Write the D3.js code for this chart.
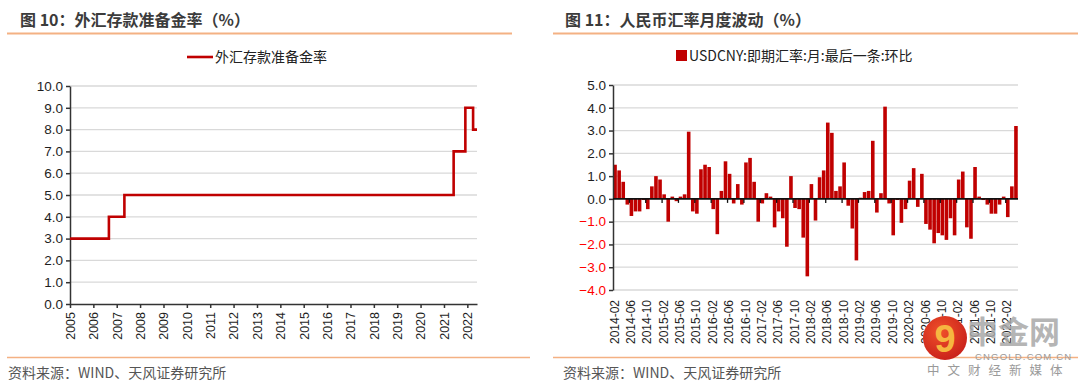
<!DOCTYPE html>
<html>
<head>
<meta charset="utf-8">
<script src="https://cdn.jsdelivr.net/npm/d3@7"></script>
<style>
  body { margin: 0; background: #fff; }
  svg { display: block; }
  text { font-family: "Liberation Sans", Arial, sans-serif; }
  .cjk { font-family: "Noto Sans CJK SC", sans-serif; }
</style>
</head>
<body>
<div id="container"></div>
<script>
/* DATA */
// left chart: fx deposit reserve ratio, step changes
const rrrDates = ["2005-01", "2006-09", "2007-05", "2021-06", "2021-12", "2022-04", "2022-06"];
const rrrValues = [3, 4, 5, 7, 9, 8, 8];
const rrrTicks = [0, 1, 2, 3, 4, 5, 6, 7, 8, 9, 10];

// right chart: USDCNY month-end spot, m/m change (%), 2014-02 .. 2022-04
const fxStart = "2014-02";
const fxEnd = "2022-04";
const fxValues = [
  1.5, 1.25, 0.75, -0.25, -0.75, -0.55, -0.55, -0.05, -0.45, 0.55, 1.0, 0.85, 0.2, -1.0, 0.1, -0.1, 0.1, 0.2,
  2.95, -0.55, -0.65, 1.3, 1.5, 1.4, -0.45, -1.55, 0.35, 1.65, 1.1, -0.2, 0.65, -0.25, 1.6,
  1.8, 0.75, -1.0, -0.2, 0.25, 0.1, -1.25, -0.55, -0.85, -2.1, 1.0, -0.4, -0.45, -1.7, -3.4, 0.65, -0.95, 0.95, 1.25, 3.35, 2.9, 0.35, 0.55,
  1.6, -0.3, -1.3, -2.7, 0.05, 0.3, 0.35, 2.55, -0.6, 0.25, 4.05,
  -0.2, -1.6, -0.05, -1.05, -0.45, 0.8, 1.35, -0.35, 1.1, -1.1, -1.35, -1.95, -1.5, -1.6, -1.8, -0.85, -1.6,
  0.85, 1.2, -1.25, -1.75, 1.4, 0.1, -0.05, -0.25, -0.65, -0.65, -0.25, 0.1, -0.8, 0.55, 3.2
];
const fxTicks = [-4, -3, -2, -1, 0, 1, 2, 3, 4, 5];

const parseMonth = d3.timeParse("%Y-%m");
const fmtMonth = d3.timeFormat("%Y-%m");
const fxMonths = d3.timeMonth.range(parseMonth(fxStart), d3.timeMonth.offset(parseMonth(fxEnd), 1)).map(fmtMonth);

const width = 1080;
const height = 387;
const red = "#c00000";
const orange = "#f4b183";

const svg = d3.select("#container")
  .append("svg")
  .attr("width", width)
  .attr("height", height)

/* HEADERS AND FOOTERS */
const panels = [
  {x0: 7, x1: 512, tx: 20, title: "图 10：外汇存款准备金率（%）", fx0: 7, fx1: 530, sx: 8},
  {x0: 553, x1: 1078, tx: 565, title: "图 11：人民币汇率月度波动（%）", fx0: 553, fx1: 1078, sx: 563}
];
panels.forEach(p => {
  svg.append("text")
    .attr("class", "cjk")
    .attr("x", p.tx)
    .attr("y", 26)
    .attr("font-size", 16)
    .attr("font-weight", 700)
    .attr("fill", "#3b3b3b")
    .text(p.title)
  svg.append("line")
    .attr("x1", p.x0).attr("x2", p.x1)
    .attr("y1", 33.5).attr("y2", 33.5)
    .attr("stroke", orange)
    .attr("stroke-width", 2)
  svg.append("line")
    .attr("x1", p.fx0).attr("x2", p.fx1)
    .attr("y1", 357.5).attr("y2", 357.5)
    .attr("stroke", orange)
    .attr("stroke-width", 1.5)
  svg.append("text")
    .attr("class", "cjk")
    .attr("x", p.sx)
    .attr("y", 378)
    .attr("font-size", 14)
    .attr("fill", "#555")
    .text("资料来源：WIND、天风证券研究所")
})

/* LEFT CHART */
const xL = d3.scaleTime()
  .domain([new Date(2005, 0, 1), new Date(2022, 5, 1)])
  .range([70, 477])
const yL = d3.scaleLinear()
  .domain([0, 10])
  .range([304, 86])

svg.append("g")
  .selectAll("line")
  .data(rrrTicks.slice(1))
  .join("line")
  .attr("x1", 70).attr("x2", 477)
  .attr("y1", d => yL(d)).attr("y2", d => yL(d))
  .attr("stroke", "#d9d9d9")
  .attr("stroke-width", 1.3)

const yAxisL = svg.append("g")
  .attr("transform", "translate(70,0)")
  .call(d3.axisLeft(yL).tickValues(rrrTicks).tickFormat(d3.format(".1f")).tickSize(4).tickSizeOuter(0))
yAxisL.selectAll("text").attr("font-size", 13.5).attr("fill", "#1e1e1e").attr("font-family", "Liberation Sans, Arial")
yAxisL.selectAll("line, path").attr("stroke", "#333").attr("stroke-width", 1.5)

const xAxisL = svg.append("g")
  .attr("transform", "translate(0,304)")
  .call(d3.axisBottom(xL).ticks(d3.timeYear.every(1)).tickFormat(d3.timeFormat("%Y")).tickSize(4).tickSizeOuter(0))
xAxisL.selectAll("line, path").attr("stroke", "#333").attr("stroke-width", 1.5)
xAxisL.selectAll("text")
  .attr("transform", "rotate(-90)")
  .attr("x", -8)
  .attr("y", 0)
  .attr("dy", "0.35em")
  .style("text-anchor", "end")
  .attr("font-size", 12.5)
  .attr("fill", "#1e1e1e")
  .attr("font-family", "Liberation Sans, Arial")

const rrrData = rrrDates.map((d, i) => ({date: parseMonth(d), value: rrrValues[i]}))
svg.append("path")
  .datum(rrrData)
  .attr("fill", "none")
  .attr("stroke", red)
  .attr("stroke-width", 2.6)
  .attr("d", d3.line().x(d => xL(d.date)).y(d => yL(d.value)).curve(d3.curveStepAfter))

// legend
svg.append("line")
  .attr("x1", 187).attr("x2", 213)
  .attr("y1", 57).attr("y2", 57)
  .attr("stroke", red)
  .attr("stroke-width", 2.6)
svg.append("text")
  .attr("class", "cjk")
  .attr("x", 215)
  .attr("y", 62)
  .attr("font-size", 14)
  .attr("fill", "#222")
  .text("外汇存款准备金率")

/* RIGHT CHART */
const xR = d3.scaleBand()
  .domain(fxMonths)
  .range([613, 1018])
  .paddingInner(0.12)
  .paddingOuter(0.06)
const yR = d3.scaleLinear()
  .domain([-4, 5])
  .range([290, 85])

svg.append("g")
  .selectAll("line")
  .data(fxTicks.filter(d => d !== 0))
  .join("line")
  .attr("x1", 613).attr("x2", 1018)
  .attr("y1", d => yR(d)).attr("y2", d => yR(d))
  .attr("stroke", "#d9d9d9")
  .attr("stroke-width", 1.3)

svg.append("g")
  .selectAll("rect")
  .data(fxValues)
  .join("rect")
  .attr("x", (d, i) => xR(fxMonths[i]))
  .attr("width", xR.bandwidth())
  .attr("y", d => yR(Math.max(0, d)))
  .attr("height", d => Math.abs(yR(d) - yR(0)))
  .attr("fill", red)

const yAxisR = svg.append("g")
  .attr("transform", "translate(613,0)")
  .call(d3.axisLeft(yR).tickValues(fxTicks).tickFormat(d3.format(".1f")).tickSize(4).tickSizeOuter(0))
yAxisR.selectAll("line, path").attr("stroke", "#333").attr("stroke-width", 1.5)
yAxisR.selectAll("text")
  .attr("font-size", 13.5)
  .attr("font-family", "Liberation Sans, Arial")
  .attr("fill", d => d < 0 ? "#ff0000" : "#1e1e1e")

// zero line with ticks between every 4 months
const stepR = xR.step()
svg.append("line")
  .attr("x1", 613).attr("x2", 1018)
  .attr("y1", yR(0)).attr("y2", yR(0))
  .attr("stroke", "#111")
  .attr("stroke-width", 1.6)
svg.append("g")
  .selectAll("line")
  .data(fxMonths.filter((d, i) => i > 0 && i % 4 === 0))
  .join("line")
  .attr("x1", d => xR(d) - stepR * 0.06).attr("x2", d => xR(d) - stepR * 0.06)
  .attr("y1", yR(0)).attr("y2", yR(0) + 4)
  .attr("stroke", "#111")
  .attr("stroke-width", 1.3)

const xAxisR = svg.append("g")
  .attr("transform", "translate(0,290)")
  .call(d3.axisBottom(xR).tickValues(fxMonths.filter((d, i) => i % 4 === 0)).tickSize(0))
xAxisR.select(".domain").remove()
xAxisR.selectAll("text")
  .attr("transform", "rotate(-90)")
  .attr("x", -10)
  .attr("y", 0)
  .attr("dy", "0.3em")
  .style("text-anchor", "end")
  .attr("font-size", 12)
  .attr("fill", "#1e1e1e")
  .attr("font-family", "Liberation Sans, Arial")

// legend
svg.append("rect")
  .attr("x", 676).attr("y", 50)
  .attr("width", 11).attr("height", 11)
  .attr("fill", red)
svg.append("text")
  .attr("class", "cjk")
  .attr("x", 689)
  .attr("y", 61)
  .attr("font-size", 14)
  .attr("fill", "#222")
  .text("USDCNY:即期汇率:月:最后一条:环比")

/* WATERMARK */
const grad = svg.append("defs").append("radialGradient")
  .attr("id", "wm")
  .attr("cx", "40%").attr("cy", "35%").attr("r", "70%")
grad.append("stop").attr("offset", "0%").attr("stop-color", "#f0502a")
grad.append("stop").attr("offset", "100%").attr("stop-color", "#c8201a")
svg.append("circle")
  .attr("cx", 945).attr("cy", 338).attr("r", 22)
  .attr("fill", "url(#wm)")
svg.append("text")
  .attr("x", 945).attr("y", 352)
  .attr("text-anchor", "middle")
  .attr("font-size", 38)
  .attr("font-weight", 700)
  .attr("fill", "#f6b640")
  .text("9")
svg.append("text")
  .attr("class", "cjk")
  .attr("x", 967).attr("y", 343)
  .attr("font-size", 31)
  .attr("font-weight", 700)
  .attr("fill", "#a8a8a8")
  .attr("fill-opacity", 0.85)
  .text("中金网")
svg.append("text")
  .attr("x", 975).attr("y", 360)
  .attr("font-size", 9.5)
  .attr("letter-spacing", 1.2)
  .attr("fill", "#9a9a9a")
  .text("CNGOLD.COM.CN")
svg.append("text")
  .attr("class", "cjk")
  .attr("x", 927).attr("y", 375)
  .attr("font-size", 12.5)
  .attr("letter-spacing", 8)
  .attr("fill", "#9a9a9a")
  .text("中文财经新媒体")
</script>
</body>
</html>
